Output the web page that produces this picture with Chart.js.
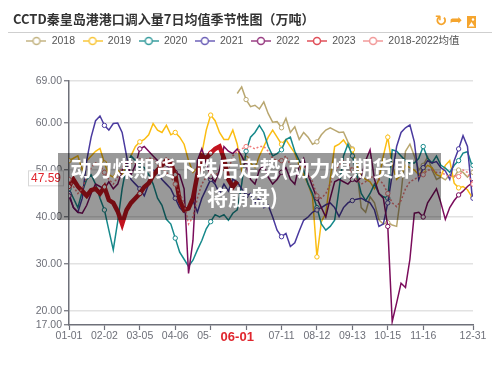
<!DOCTYPE html>
<html>
<head>
<meta charset="utf-8">
<script src="https://cdn.jsdelivr.net/npm/chart.js@4.4.0/dist/chart.umd.min.js"></script>
<style>
html, body { margin: 0; padding: 0; background: #fff; }
#wrap { position: relative; width: 500px; height: 374px; }
#banner {
    position: absolute; left: 58px; top: 153px; width: 383px; height: 67px;
    background: rgba(0, 0, 0, 0.4); color: #fff; box-sizing: border-box; padding-right: 14px;
    font: bold 21px "Noto Sans CJK SC", sans-serif; line-height: 29px; text-align: center;
}
</style>
</head>
<body>
<div id="wrap">
    <canvas id="chart" width="500" height="374" style="width:500px;height:374px"></canvas>
    <div id="banner">动力煤期货下跌后走势(动力煤期货即<br>将崩盘)</div>
</div>
<script>
// sample days (day of year, leap-year calendar), every 4 days + 12-31
const days = [];
for (let d = 0; d <= 364; d += 4) days.push(d);
days.push(365);

const xTickDays = [0, 32, 64, 96, 128, 160, 192, 224, 256, 288, 320, 365];
const xTickLabels = ['01-01', '02-02', '03-05', '04-06', '05-08', '06-09', '07-11', '08-12', '09-13', '10-15', '11-16', '12-31'];
const yTicks = [17, 20, 30, 40, 50, 60, 69];

const seriesNames = ['2018', '2019', '2020', '2021', '2022', '2023', '2018-2022均值'];

const pad38 = Array(38).fill(null);
const v2018 = pad38.concat([66.3, 67.7, 65, 63.5, 63.8, 63, 64.5, 62, 60.2, 60.3, 59, 61, 58, 59.2, 56.5, 58, 57, 55.5, 56, 57.5,
    58.5, 59, 58.5, 58, 58.1, 56, 54.5, 50, 42, 41, 44.3, 43, 39.4, 38.5, 38.8, 38.3, 38, 45, 54, 55.5,
    53, 50, 51, 52.8, 50, 48, 48.5, 47.9, 49, 48.5, 50, 49.5, 48.5, 49.5, 49.5]);
const v2019 = [52, 52.5, 53, 50, 52, 53, 54, 54.6, 51.5, 49, 48.5, 50, 49, 51, 53, 55, 56, 56.5, 57.5, 59.9,
    58.5, 58, 59.5, 57.5, 58, 57, 55.5, 52, 49.5, 50.5, 53.5, 58.5, 61.7, 60.5, 58, 56.5, 56.5, 58.5, 55.5, 50,
    52.5, 51.5, 50.5, 53, 55, 57, 58.5, 57, 55.5, 56.5, 55, 53.6, 51, 49, 47, 44.3, 31.5, 39, 40.8, 48,
    55, 55.5, 56.4, 55, 54.3, 51, 49, 48, 47.5, 46, 48, 53, 57, 51, 48, 49, 51, 50.5, 50, 49,
    50, 51, 50.5, 49, 48.6, 51, 52, 47.2, 46.2, 46.5, 45.8, 44.3, 44.3];
const v2020 = [46, 44, 42, 45.5, 48, 49, 47, 44, 41.5, 37.2, 33, 39, 46, 51, 53, 52, 51, 50.5, 49, 47,
    44, 42.5, 39.5, 38.5, 35.5, 32.5, 31, 29.5, 30.8, 33, 35, 37.5, 39, 40.5, 40, 40.5, 39.3, 40.8, 41.5, 47,
    54, 57, 58, 59.5, 58, 55, 53, 53.5, 54.3, 56.5, 57, 54, 52, 50, 47, 45, 42, 38.5, 37.2, 38,
    39.3, 46, 53, 55.5, 53, 49, 45, 43.5, 45, 47, 45, 44.3, 44, 54.3, 54, 53, 52, 51.5, 51.5, 52.5,
    55, 52.5, 51.5, 53, 51, 50.4, 49.5, 51, 52, 53.6, 53.9, 51, 51];
const v2021 = [45, 42, 41, 44, 52, 57, 60.5, 61.5, 59.5, 58.5, 59.9, 60, 58, 53, 48, 47, 46, 44.5, 47, 50,
    49.5, 48, 47, 46, 44, 42, 41, 42, 43.5, 41, 44, 46, 48, 47, 45, 47, 45.5, 48, 47.5, 46,
    44.5, 45, 43, 44, 42, 42.5, 40, 37.2, 35.8, 36.5, 33.7, 34.5, 37, 39.3, 40, 41, 41.5, 42, 42.6, 43,
    42, 40.1, 42, 43, 43.5, 43.8, 44, 43.5, 43, 41.5, 38, 38.5, 43, 49, 55, 58, 59, 59.6, 56, 48,
    50.5, 52, 51.5, 51.8, 50.5, 49.8, 48, 52, 54.5, 57.3, 55, 45, 44];
const v2022 = [44.5, 42, 41, 40.8, 42.5, 45, 47, 46.5, 46, 47.5, 46, 47, 50, 51.5, 49, 51, 54.5, 55, 54, 53,
    52, 51.5, 51, 50.2, 49.5, 49, 46, 28, 35, 52, 54.5, 51.5, 48.6, 47.5, 50, 55, 54, 53.5, 54.5, 53,
    51, 48, 47, 50, 51, 48.5, 47, 48, 49.5, 50.5, 48, 47, 51, 52.5, 49, 46.5, 44, 42, 40, 44,
    47.5, 48, 47.5, 47, 48, 47.5, 48.5, 52, 54.3, 48, 45, 44, 38, 17.7, 21.7, 25.9, 25, 31, 40.8, 41,
    40, 43, 44.5, 46, 43, 39.5, 42, 43.5, 44.7, 45.5, 46.5, 47.2, 47.3];
const v2023 = [46.5, 48, 46.5, 45.5, 44.5, 45.7, 46, 45, 46.4, 43.6, 43, 41.2, 38.5, 41.5, 43, 44, 45, 46.4, 47.2, 48.8,
    50, 51, 52.1, 51.5, 49, 43.5, 41.5, 41.8, 44, 49, 53, 52.5, 53.6, 54.5, 55, 52.5, 48, 46.4, 47.59];
const vMean = [48, 46.5, 45, 46, 48.5, 50.5, 51.5, 51, 49.5, 48, 47, 48.5, 50.5, 52, 51.5, 51.5, 52, 52, 52.5, 52.5,
    51, 50.5, 49.5, 48.5, 47, 45, 43, 38.5, 40, 44, 47, 48.5, 49.5, 49, 49.5, 50, 50, 53, 54, 54.5,
    55, 55, 54.5, 55, 55, 54, 52.5, 52, 52, 53, 51, 50.5, 51, 51, 49, 47.5, 44.5, 44, 45, 47,
    49.5, 51, 52, 51.5, 50, 48, 47, 47.5, 48.5, 48.5, 48, 47, 45, 43, 42.2, 43.5, 46, 47.5, 48, 48.6,
    49, 50, 50, 49.5, 49.5, 49, 48.5, 48.8, 48.6, 50, 49.5, 47.2, 47];

const pointerDay = 152;      // 06-01
const pointerLabel = '06-01';
const pointerValue = 47.59;

const lineColors = ['#b9a770', '#fbbd12', '#16898b', '#4a3a9f', '#7b0c5c', '#c2141f', '#ef7b7b'];
const allValues = [v2018, v2019, v2020, v2021, v2022, v2023, vMean];

const markerDays = [0, 32, 64, 96, 128, 160, 192, 224, 256, 288, 320, 352, 365];

function legendIcon(color) {
    const c = document.createElement('canvas');
    c.width = 20; c.height = 10;
    const g = c.getContext('2d');
    g.strokeStyle = color;
    g.lineWidth = 1.5;
    g.beginPath(); g.moveTo(0, 5); g.lineTo(20, 5); g.stroke();
    g.fillStyle = '#fff';
    g.beginPath(); g.arc(10, 5, 3.5, 0, Math.PI * 2); g.fill(); g.stroke();
    return c;
}
const legendColors = ['#c4b584', '#f9c73c', '#3a9e9f', '#6e62b8', '#9a3f84', '#e0505a', '#f29a9a'];
const legendIcons = legendColors.map(c => legendIcon(c));

const datasets = allValues.map((vals, i) => ({
    label: seriesNames[i],
    data: vals.map((v, k) => ({ x: days[k], y: v })),
    borderColor: lineColors[i],
    backgroundColor: lineColors[i],
    borderWidth: i === 5 ? 4.5 : 1.5,
    borderDash: i === 6 ? [2, 2] : [],
    tension: 0,
    fill: false,
    order: 7 - i,
    pointRadius: ctx => (markerDays.includes(days[ctx.dataIndex]) ? 2.2 : 0),
    pointBackgroundColor: '#fff',
    pointBorderColor: lineColors[i],
    pointBorderWidth: 1,
    spanGaps: false
}));

const legendGap = {
    id: 'legendGap',
    beforeInit(chart) {
        const fit = chart.legend.fit;
        chart.legend.fit = function () {
            fit.call(this);
            this.height += 24.6;
        };
    }
};

const decor = {
    id: 'decor',
    beforeDraw(chart) {
        const ctx = chart.ctx;
        ctx.save();
        ctx.strokeStyle = '#cfcfcf';
        ctx.lineWidth = 1;
        ctx.beginPath(); ctx.moveTo(8, 32.5); ctx.lineTo(492, 32.5); ctx.stroke();
        // toolbox icons
        ctx.fillStyle = '#f5a52e';
        ctx.font = 'bold 15px "DejaVu Sans"';
        ctx.textAlign = 'center';
        ctx.textBaseline = 'middle';
        ctx.fillText('↻', 441, 22);
        ctx.fillText('➦', 456, 21);
        ctx.fillRect(467, 16, 9, 12);
        ctx.fillStyle = '#fff';
        ctx.beginPath(); ctx.moveTo(468.5, 26.5); ctx.lineTo(471.5, 22); ctx.lineTo(474.5, 26.5); ctx.fill();
        ctx.beginPath(); ctx.arc(473, 19.5, 1.2, 0, Math.PI * 2); ctx.fill();
        ctx.restore();
    },
    afterDraw(chart) {
        const ctx = chart.ctx;
        const xs = chart.scales.x, ys = chart.scales.y;
        ctx.save();
        // x pointer label
        const px = xs.getPixelForValue(pointerDay);
        ctx.fillStyle = '#fff';
        ctx.fillRect(px - 26.5, xs.top + 5.5, 53, 16);
        ctx.fillStyle = '#e0262e';
        ctx.font = 'bold 13px "Liberation Sans"';
        ctx.textAlign = 'center';
        ctx.textBaseline = 'middle';
        ctx.fillText(pointerLabel, px, xs.top + 12);
        // y pointer label
        const py = ys.getPixelForValue(pointerValue) - 3;
        ctx.fillStyle = '#fff';
        ctx.strokeStyle = '#d8d8d8';
        ctx.lineWidth = 1;
        ctx.fillRect(28.5, py - 7.5, 35, 15);
        ctx.strokeRect(28.5, py - 7.5, 35, 15);
        ctx.fillStyle = '#e0262e';
        ctx.font = '12px "Liberation Sans"';
        ctx.fillText(pointerValue.toFixed(2), 46, py + 0.5);
        ctx.restore();
    }
};

const tickFont = { family: '"Liberation Sans", sans-serif', size: 10.5 };

new Chart(document.getElementById('chart').getContext('2d'), {
    type: 'line',
    data: { datasets: datasets },
    options: {
        responsive: false,
        animation: false,
        layout: { padding: { left: 13, right: 27, top: 0, bottom: 0 } },
        plugins: {
            tooltip: { enabled: false },
            title: {
                display: true,
                text: 'CCTD秦皇岛港港口调入量7日均值季节性图（万吨）',
                align: 'start',
                color: '#333',
                font: { family: '"Noto Sans CJK SC", sans-serif', size: 13, weight: 'bold' },
                padding: { top: 11, bottom: 1.6 }
            },
            legend: {
                display: true,
                labels: {
                    usePointStyle: true,
                    pointStyleWidth: 20,
                    padding: 7.5,
                    color: '#555',
                    font: { family: '"Liberation Sans", "Noto Sans CJK SC", sans-serif', size: 10.5 },
                    generateLabels(chart) {
                        const items = Chart.defaults.plugins.legend.labels.generateLabels(chart);
                        items.forEach(it => { it.pointStyle = legendIcons[it.datasetIndex]; });
                        return items.sort((a, b) => a.datasetIndex - b.datasetIndex);
                    }
                }
            }
        },
        scales: {
            x: {
                type: 'linear',
                min: 0,
                max: 365,
                afterBuildTicks(scale) { scale.ticks = xTickDays.map(v => ({ value: v })); },
                afterFit(scale) { scale.height = 49; },
                ticks: {
                    autoSkip: false,
                    maxRotation: 0,
                    padding: 0,
                    color: '#6e7079',
                    font: tickFont,
                    callback: v => xTickLabels[xTickDays.indexOf(v)]
                },
                grid: { drawOnChartArea: false, drawTicks: true, tickLength: 5, tickColor: '#6e7079', tickWidth: 1.2 },
                border: { color: '#6e7079', width: 1.5 }
            },
            y: {
                min: 17,
                max: 69,
                afterBuildTicks(scale) { scale.ticks = yTicks.map(v => ({ value: v })); },
                afterFit(scale) { scale.width = 56; },
                ticks: {
                    padding: 2,
                    color: '#6e7079',
                    font: tickFont,
                    callback: v => v.toFixed(2)
                },
                grid: {
                    color: c => (c.tick && c.tick.value === 17 ? 'rgba(0,0,0,0)' : '#e2e2e2'),
                    lineWidth: 1.5,
                    drawTicks: true,
                    tickLength: 5,
                    tickColor: '#6e7079',
                    tickWidth: 1.2
                },
                border: { color: '#6e7079', width: 1.5 }
            }
        }
    },
    plugins: [legendGap, decor]
});
</script>
</body>
</html>
